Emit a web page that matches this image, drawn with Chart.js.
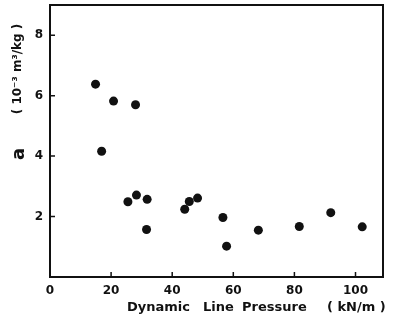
<!DOCTYPE html>
<html>
<head>
<meta charset="utf-8">
<script src="https://cdn.jsdelivr.net/npm/chart.js@4.4.1/dist/chart.umd.min.js"></script>
<style>
  html, body { margin: 0; padding: 0; background: #fff; }
  #wrap { width: 393px; height: 321px; position: relative; }
</style>
</head>
<body>
<div id="wrap"><canvas id="chart"></canvas></div>
<script>
// dynamic line pressure (kN/m) vs coefficient a (10^-3 m3/kg)
const pressure = [14.9, 20.8, 28.0, 16.9, 25.5, 28.3, 31.8, 31.6, 44.1, 45.6, 48.3, 56.6, 57.8, 68.2, 81.6, 91.9, 102.2];
const coeffA   = [6.38, 5.82, 5.70, 4.16, 2.49, 2.71, 2.57, 1.57, 2.24, 2.50, 2.61, 1.97, 1.02, 1.55, 1.67, 2.13, 1.66];
const xTicks = [0, 20, 40, 60, 80, 100];
const yTicks = [2, 4, 6, 8];
const xTitleWords = ['Dynamic', 'Line', 'Pressure', '( kN/m )'];
const yTitleVar = 'a';
const yTitleUnit = '( 10\u207B\u00B3 m\u00B3/kg )';

const INK = '#111';
const FONT = '"DejaVu Sans", Verdana, sans-serif';

// frame, inward ticks and axis titles
const framePlugin = {
  id: 'frame',
  afterDraw(chart) {
    const { ctx, chartArea: a, scales: { x, y } } = chart;
    ctx.save();
    ctx.strokeStyle = INK;
    ctx.lineWidth = 2;
    ctx.strokeRect(a.left, a.top, a.right - a.left, a.bottom - a.top);
    ctx.lineWidth = 1.5;
    ctx.beginPath();
    xTicks.forEach(v => {
      const px = x.getPixelForValue(v);
      ctx.moveTo(px, a.bottom); ctx.lineTo(px, a.bottom - 5);
    });
    yTicks.forEach(v => {
      const py = y.getPixelForValue(v);
      ctx.moveTo(a.left, py); ctx.lineTo(a.left + 5, py);
    });
    ctx.stroke();

    ctx.fillStyle = INK;
    ctx.textAlign = 'center';
    ctx.textBaseline = 'middle';
    // y title, rotated
    ctx.save();
    ctx.translate(19, 154); ctx.rotate(-Math.PI / 2);
    ctx.font = 'bold 18px ' + FONT;
    ctx.fillText(yTitleVar, 0, 0);
    ctx.restore();
    ctx.save();
    ctx.translate(18, 69); ctx.rotate(-Math.PI / 2);
    ctx.font = 'bold 12px ' + FONT;
    ctx.fillText(yTitleUnit, 0, 0);
    ctx.restore();
    // x title, word by word
    ctx.textAlign = 'left';
    ctx.textBaseline = 'alphabetic';
    ctx.font = 'bold 13px ' + FONT;
    const wordX = [127, 203, 242, 327];
    xTitleWords.forEach((w, i) => ctx.fillText(w, wordX[i], 311));
    ctx.restore();
  }
};

new Chart(document.getElementById('chart'), {
  type: 'scatter',
  data: {
    datasets: [{
      data: pressure.map((p, i) => ({ x: p, y: coeffA[i] })),
      backgroundColor: INK, borderColor: INK,
      pointRadius: 4.5, pointHoverRadius: 4.5, borderWidth: 0
    }]
  },
  options: {
    responsive: true, maintainAspectRatio: false, animation: false,
    layout: { padding: { left: 0, right: 10, top: 5, bottom: 0 } },
    plugins: { legend: { display: false }, tooltip: { enabled: false } },
    scales: {
      x: {
        type: 'linear', min: 0, max: 109,
        afterFit: s => { s.height = 44; s.paddingLeft = 0; s.paddingRight = 0; },
        grid: { display: false, drawTicks: false },
        border: { display: false },
        ticks: {
          stepSize: 20, includeBounds: false, padding: 7, maxRotation: 0,
          color: INK, font: { family: FONT, size: 12, weight: 'bold' }
        }
      },
      y: {
        type: 'linear', min: 0, max: 9,
        afterFit: s => { s.width = 50; s.paddingTop = 0; s.paddingBottom = 0; },
        grid: { display: false, drawTicks: false },
        border: { display: false },
        ticks: {
          stepSize: 2, includeBounds: false, padding: 7,
          color: INK, font: { family: FONT, size: 12, weight: 'bold' },
          callback: v => (v === 0 ? '' : v)
        }
      }
    }
  },
  plugins: [framePlugin]
});
</script>
</body>
</html>
